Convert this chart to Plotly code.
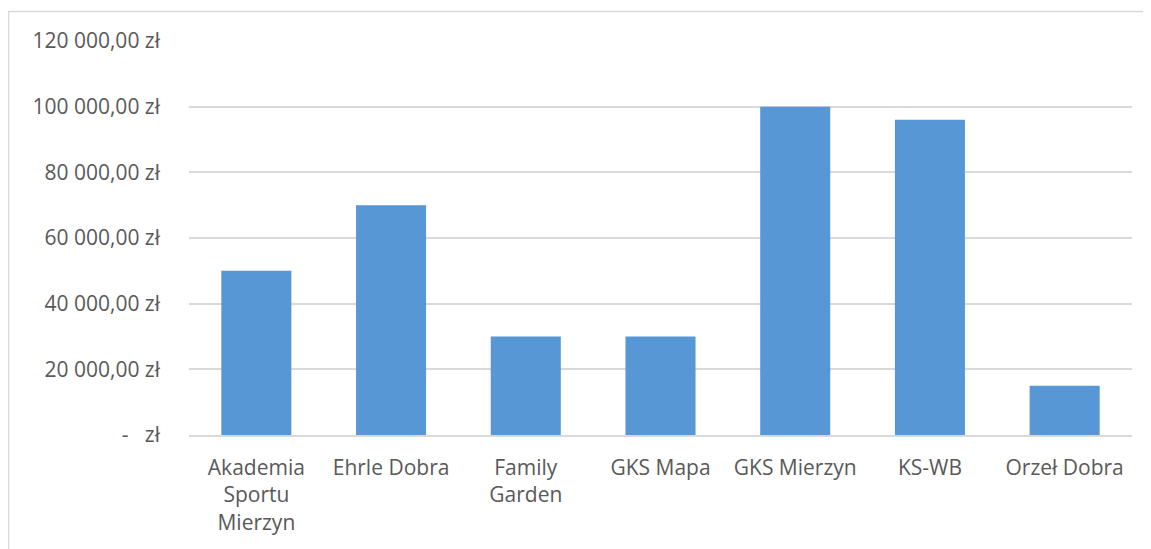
import plotly.graph_objects as go

categories = ["Akademia<br>Sportu<br>Mierzyn", "Ehrle Dobra", "Family<br>Garden", "GKS Mapa",
              "GKS Mierzyn", "KS-WB", "Orzeł Dobra"]
values = [50000, 70000, 30000, 30000, 100000, 96000, 15000]
y_tickvals = [0, 20000, 40000, 60000, 80000, 100000, 120000]
y_ticktext = ["-   zł", "20 000,00 zł", "40 000,00 zł", "60 000,00 zł",
              "80 000,00 zł", "100 000,00 zł", "120 000,00 zł"]

OFF = 8  # page body margin
W, H = 1151 - OFF, 549 - OFF
L, R, T, B = 189 - OFF, 1132 - OFF, 41 - OFF, 435 - OFF
pw, ph = R - L, B - T

fig = go.Figure()
fig.add_trace(go.Bar(
    x=categories, y=values,
    marker=dict(color="#5897d6", line=dict(width=0)),
    hoverinfo="x+y",
))

font_family = "Open Sans, Noto Sans, sans-serif"
fig.update_layout(
    width=W, height=H,
    margin=dict(l=L, r=W - R, t=T, b=H - B, pad=0),
    paper_bgcolor="white", plot_bgcolor="white",
    bargap=0.48,
    showlegend=False,
    font=dict(family=font_family, size=21, color="#595959"),
    xaxis=dict(
        showgrid=False, zeroline=False, showline=True,
        linecolor="#d9d9d9", linewidth=1.5,
        tickfont=dict(size=21, color="#595959"),
        ticks="", ticklabelstandoff=13,
        fixedrange=True,
    ),
    yaxis=dict(
        range=[0, 120000],
        tickvals=y_tickvals, ticktext=y_ticktext,
        showgrid=True, gridcolor="#d9d9d9", gridwidth=1.5,
        zeroline=False, showline=False,
        tickfont=dict(size=21, color="#595959"),
        ticks="", ticklabelstandoff=28,
        fixedrange=True,
    ),
    shapes=[dict(
        type="rect", xref="paper", yref="paper",
        x0=(8.5 - OFF - L) / pw, x1=(1170 - L) / pw,
        y0=(B - 700) / ph, y1=(B - (11.5 - OFF)) / ph,
        line=dict(color="#d9d9d9", width=1.5),
        fillcolor="rgba(0,0,0,0)", layer="below",
    )],
)

fig.write_html("out.html")
